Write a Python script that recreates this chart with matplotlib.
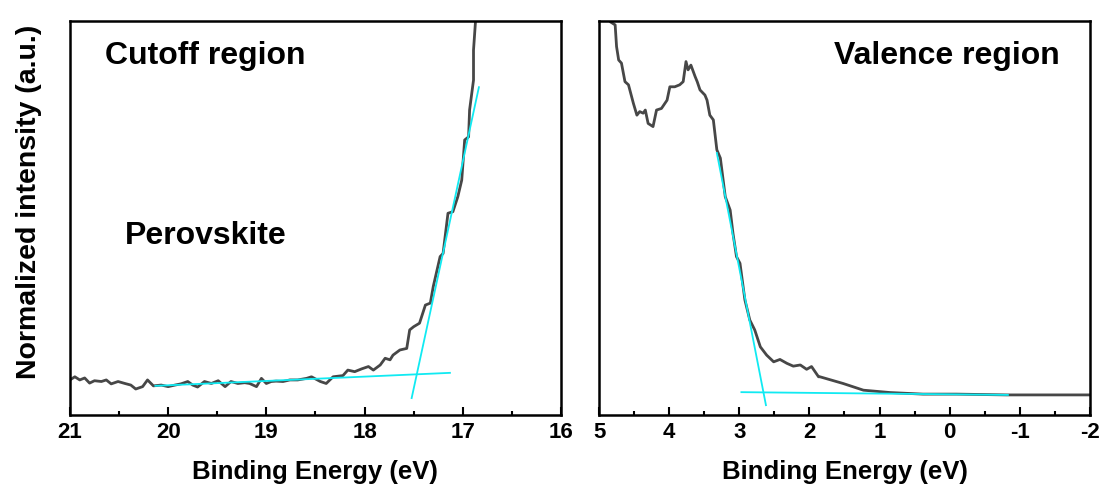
import matplotlib
matplotlib.use("Agg")
import matplotlib.pyplot as plt
from matplotlib.ticker import MultipleLocator

plt.rcParams['font.family'] = ['Liberation Sans', 'DejaVu Sans']
plt.rcParams['font.weight'] = 'bold'
plt.rcParams['axes.unicode_minus'] = False

# --- cutoff region (binding energy, normalized intensity) ---
cut_e = [21.00, 20.95, 20.90, 20.85, 20.80, 20.75, 20.68, 20.63, 20.58, 20.51,
         20.44, 20.38, 20.33, 20.26, 20.21, 20.15, 20.07, 20.00, 19.93, 19.87,
         19.80, 19.75, 19.70, 19.63, 19.56, 19.49, 19.42, 19.36, 19.29, 19.22,
         19.17, 19.10, 19.05, 19.00, 18.95, 18.90, 18.83, 18.76, 18.68, 18.59,
         18.54, 18.45, 18.39, 18.32, 18.22, 18.17, 18.10, 18.03, 17.96, 17.91,
         17.84, 17.79, 17.74, 17.71, 17.64, 17.57, 17.54, 17.50, 17.44, 17.38,
         17.33, 17.30, 17.23, 17.20, 17.15, 17.10, 17.05, 17.01, 16.98, 16.94,
         16.93, 16.89, 16.89, 16.87, 16.86]
cut_i = [0.089, 0.097, 0.089, 0.094, 0.081, 0.087, 0.085, 0.089, 0.079, 0.085,
         0.080, 0.076, 0.066, 0.072, 0.089, 0.074, 0.076, 0.072, 0.076, 0.079,
         0.085, 0.076, 0.071, 0.085, 0.080, 0.087, 0.072, 0.085, 0.080, 0.082,
         0.080, 0.072, 0.093, 0.080, 0.085, 0.086, 0.085, 0.089, 0.089, 0.093,
         0.097, 0.085, 0.080, 0.097, 0.100, 0.114, 0.110, 0.117, 0.123, 0.114,
         0.127, 0.144, 0.140, 0.152, 0.165, 0.169, 0.216, 0.224, 0.233, 0.279,
         0.284, 0.326, 0.402, 0.410, 0.512, 0.516, 0.554, 0.596, 0.698, 0.706,
         0.774, 0.850, 0.926, 0.998, 1.050]

# tangent lines (cutoff)
cut_base_e = [20.13, 17.13]
cut_base_i = [0.074, 0.107]
cut_edge_e = [17.52, 16.835]
cut_edge_i = [0.043, 0.832]

# --- valence region ---
val_e = [4.87, 4.84, 4.77, 4.75, 4.72, 4.68, 4.63, 4.58, 4.51, 4.46, 4.42,
         4.37, 4.34, 4.30, 4.23, 4.18, 4.11, 4.03, 3.99, 3.92, 3.85, 3.80,
         3.76, 3.73, 3.69, 3.63, 3.60, 3.56, 3.49, 3.46, 3.42, 3.37, 3.32,
         3.27, 3.20, 3.13, 3.09, 3.04, 2.99, 2.92, 2.85, 2.78, 2.70, 2.61,
         2.51, 2.42, 2.32, 2.23, 2.13, 2.04, 1.97, 1.87, 1.85, 1.52, 1.23,
         0.85, 0.38, -0.10, -0.81, -1.98]
val_i = [1.020, 0.998, 0.990, 0.935, 0.901, 0.893, 0.846, 0.838, 0.791, 0.761,
         0.770, 0.766, 0.774, 0.740, 0.732, 0.774, 0.778, 0.799, 0.833, 0.833,
         0.838, 0.846, 0.897, 0.876, 0.888, 0.859, 0.846, 0.825, 0.812, 0.799,
         0.761, 0.749, 0.673, 0.652, 0.554, 0.520, 0.461, 0.402, 0.385, 0.292,
         0.241, 0.216, 0.173, 0.152, 0.135, 0.141, 0.131, 0.124, 0.127, 0.116,
         0.123, 0.097, 0.097, 0.080, 0.063, 0.057, 0.053, 0.053, 0.051, 0.051]

# tangent lines (valence)
val_edge_e = [3.32, 2.62]
val_edge_i = [0.665, 0.025]
val_base_e = [2.97, -0.83]
val_base_i = [0.058, 0.051]

curve_color = '#474747'
fit_color = '#10eaf2'

fig = plt.figure(figsize=(11.05, 4.95), dpi=100)
ax1 = fig.add_axes([0.0633, 0.1616, 0.4443, 0.796])
ax2 = fig.add_axes([0.5421, 0.1616, 0.4443, 0.796])

ax1.plot(cut_e, cut_i, color=curve_color, lw=2.0)
ax1.plot(cut_base_e, cut_base_i, color=fit_color, lw=1.3)
ax1.plot(cut_edge_e, cut_edge_i, color=fit_color, lw=1.3)
ax1.set_xlim(21, 16)

ax2.plot(val_e, val_i, color=curve_color, lw=2.0)
ax2.plot(val_edge_e, val_edge_i, color=fit_color, lw=1.3)
ax2.plot(val_base_e, val_base_i, color=fit_color, lw=1.3)
ax2.set_xlim(5, -2)

for ax in (ax1, ax2):
    ax.set_ylim(0, 1)
    ax.set_yticks([])
    ax.xaxis.set_major_locator(MultipleLocator(1))
    ax.xaxis.set_minor_locator(MultipleLocator(0.5))
    ax.tick_params(axis='x', which='major', direction='in', length=6, width=1.5,
                   labelsize=16, pad=5)
    ax.tick_params(axis='x', which='minor', direction='in', length=3, width=1.5)
    for s in ax.spines.values():
        s.set_linewidth(1.8)
    ax.set_xlabel('Binding Energy (eV)', fontsize=18.5, fontweight='bold', labelpad=12)

ax1.set_ylabel('Normalized intensity (a.u.)', fontsize=20.5, fontweight='bold')
ax1.yaxis.set_label_coords(-0.057, 0.54)

ax1.text(0.072, 0.91, 'Cutoff region', transform=ax1.transAxes, fontsize=23,
         fontweight='bold', va='center')
ax1.text(0.112, 0.455, 'Perovskite', transform=ax1.transAxes, fontsize=23,
         fontweight='bold', va='center')
ax2.text(0.479, 0.91, 'Valence region', transform=ax2.transAxes, fontsize=23,
         fontweight='bold', va='center')

fig.savefig('out.png', dpi=100)
